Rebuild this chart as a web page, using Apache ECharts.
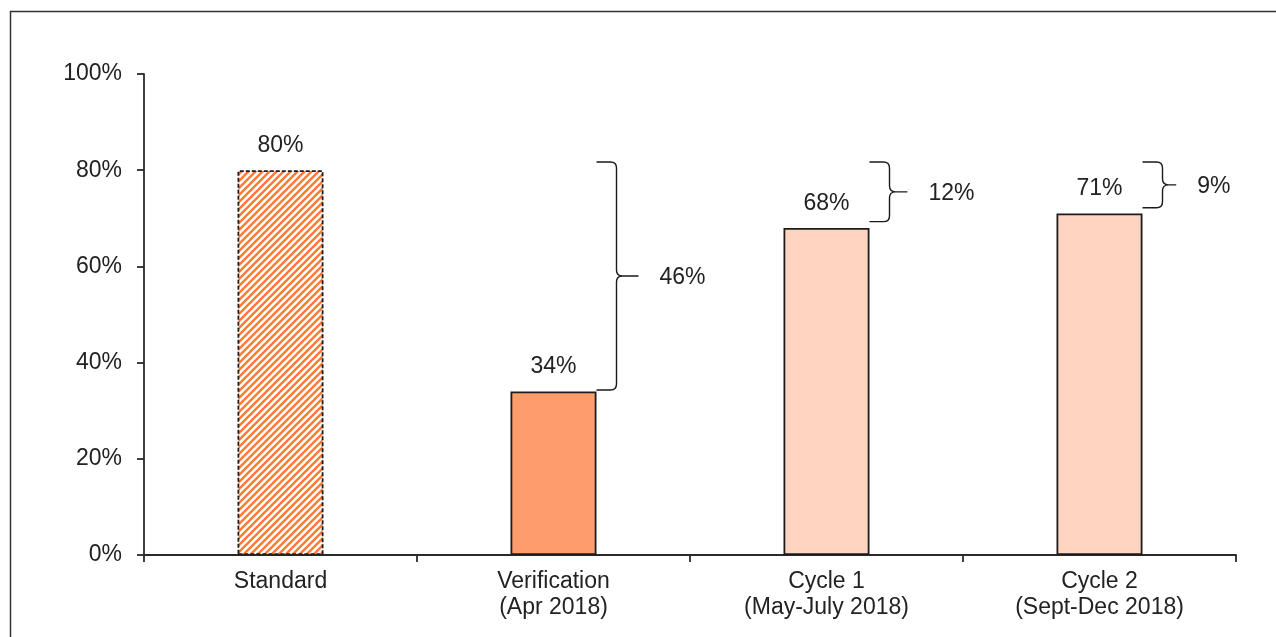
<!DOCTYPE html>
<html>
<head>
<meta charset="utf-8">
<title>Compliance vs standard</title>
<script src="https://cdn.jsdelivr.net/npm/echarts@6/dist/echarts.min.js"></script>
<style>
  html, body { margin: 0; padding: 0; background: #fff; }
  #chart { width: 1276px; height: 637px; }
</style>
</head>
<body>
<div id="chart"></div>
<script>
// Categories and values (percent)
const categories = ['Standard', 'Verification\n(Apr 2018)', 'Cycle 1\n(May-July 2018)', 'Cycle 2\n(Sept-Dec 2018)'];
const values = [80, 34, 68, 71];
const target = 80;
// Bracket extents (percent) showing the gap to the standard
const braceTop = [null, 81.7, 81.7, 81.7];
const braceBottom = [null, 34.3, 69.3, 72.2];
const yTicks = [0, 20, 40, 60, 80, 100];

const TEXT = '#222222';
const AXIS = '#2a2a2a';
const FONT = '"Liberation Sans", Arial, sans-serif';
const FS = 23;

// Diagonal hatch pattern for the standard bar
function hatchPattern() {
  const s = 7;
  const c = document.createElement('canvas');
  c.width = s; c.height = s;
  const g = c.getContext('2d');
  g.fillStyle = '#ffffff';
  g.fillRect(0, 0, s, s);
  g.strokeStyle = '#FF7A35';
  g.lineWidth = 2.4;
  g.beginPath();
  g.moveTo(-1, s + 1); g.lineTo(s + 1, -1);
  g.moveTo(-1, 1); g.lineTo(1, -1);
  g.moveTo(s - 1, s + 1); g.lineTo(s + 1, s - 1);
  g.stroke();
  return c;
}

const barFills = [
  { image: hatchPattern(), repeat: 'repeat' },
  '#FF9C6B',
  '#FFD4C0',
  '#FFD4C0'
];

const barData = values.map((v, i) => ({
  value: v,
  itemStyle: {
    color: barFills[i],
    borderColor: '#1c1c1c',
    borderWidth: 1.8,
    borderType: i === 0 ? [4, 2] : 'solid'
  }
}));

const braceData = values.map((v, i) => [i, braceTop[i], braceBottom[i], target - v]).filter(d => d[1] != null);

const chart = echarts.init(document.getElementById('chart'), null, { renderer: 'canvas' });

chart.setOption({
  animation: false,
  backgroundColor: '#ffffff',
  textStyle: { fontFamily: FONT },
  grid: { left: 144, right: 40, top: 74, bottom: 82, containLabel: false },
  xAxis: {
    type: 'category',
    data: categories,
    axisLine: { lineStyle: { color: AXIS, width: 1.8 } },
    axisTick: { show: true, alignWithLabel: false, length: 7, lineStyle: { color: AXIS, width: 1.8 } },
    axisLabel: { color: TEXT, fontSize: FS, lineHeight: 26, margin: 14, fontFamily: FONT }
  },
  yAxis: {
    type: 'value',
    min: yTicks[0],
    max: yTicks[yTicks.length - 1],
    interval: yTicks[1] - yTicks[0],
    axisLine: { show: true, lineStyle: { color: AXIS, width: 1.8 } },
    axisTick: { show: true, length: 7, lineStyle: { color: AXIS, width: 1.8 } },
    splitLine: { show: false },
    axisLabel: { color: TEXT, fontSize: FS, margin: 22, formatter: '{value}%', fontFamily: FONT }
  },
  series: [
    {
      type: 'bar',
      data: barData,
      barWidth: 86,
      label: {
        show: true,
        position: 'top',
        distance: 13,
        color: TEXT,
        fontSize: FS,
        fontFamily: FONT,
        formatter: p => p.value + '%'
      }
    },
    {
      type: 'custom',
      data: braceData,
      z: 5,
      renderItem: function (params, api) {
        const idx = api.value(0);
        const top = api.coord([idx, api.value(1)]);
        const bot = api.coord([idx, api.value(2)]);
        const x0 = top[0] + 43;
        const xv = top[0] + 63;
        const yt = top[1], yb = bot[1];
        const mid = (yt + yb) / 2;
        const tip = Math.min(22, (yb - yt) * 0.3);
        const r = 6;
        const path =
          'M' + x0 + ' ' + yt +
          ' L' + (xv - r) + ' ' + yt +
          ' Q' + xv + ' ' + yt + ' ' + xv + ' ' + (yt + r) +
          ' L' + xv + ' ' + (mid - r) +
          ' Q' + xv + ' ' + mid + ' ' + (xv + r) + ' ' + mid +
          ' L' + (xv + tip) + ' ' + mid +
          ' M' + (xv + r) + ' ' + mid +
          ' Q' + xv + ' ' + mid + ' ' + xv + ' ' + (mid + r) +
          ' L' + xv + ' ' + (yb - r) +
          ' Q' + xv + ' ' + yb + ' ' + (xv - r) + ' ' + yb +
          ' L' + x0 + ' ' + yb;
        return {
          type: 'group',
          children: [
            {
              type: 'path',
              shape: { pathData: path },
              style: { fill: null, stroke: '#1a1a1a', lineWidth: 1.4 }
            },
            {
              type: 'text',
              style: {
                x: xv + tip + 21,
                y: mid + 2,
                text: api.value(3) + '%',
                fill: TEXT,
                font: FS + 'px ' + FONT,
                align: 'left',
                verticalAlign: 'middle'
              }
            }
          ]
        };
      }
    }
  ],
  graphic: [
    {
      type: 'rect',
      silent: true,
      shape: { x: 10.5, y: 11.5, width: 1300, height: 700 },
      style: { fill: null, stroke: '#333333', lineWidth: 1.5 }
    }
  ]
});
</script>
</body>
</html>
